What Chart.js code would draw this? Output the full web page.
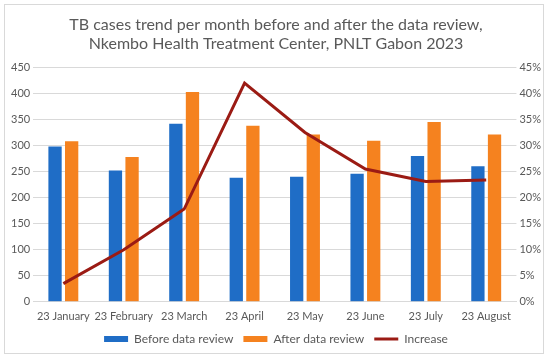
<!DOCTYPE html>
<html>
<head>
<meta charset="utf-8">
<script src="https://cdn.jsdelivr.net/npm/chart.js@4"></script>
<style>
    html, body { margin: 0; padding: 0; background: #fff; }
    #frame { position: absolute; left: 4px; top: 4px; width: 540px; height: 350px; border: 1px solid #d9d9d9; box-sizing: border-box; }
    #wrap { position: absolute; left: 4px; top: 4px; width: 540px; height: 351px; }
</style>
</head>
<body>
<div id="frame"></div>
<div id="wrap"><canvas id="chart"></canvas></div>
<script>
const months = ['23 January', '23 February', '23 March', '23 April', '23 May', '23 June', '23 July', '23 August'];
const beforeReview = [298, 252, 342, 238, 240, 246, 280, 260];
const afterReview = [308, 278, 403, 338, 321, 309, 345, 321];
const increasePct = [3.5, 10, 17.8, 42, 32.5, 25.5, 23.1, 23.4];

const grey = '#595959';
Chart.defaults.font.family = 'Lato, "Noto Sans", sans-serif';

new Chart(document.getElementById('chart'), {
    type: 'bar',
    data: {
        labels: months,
        datasets: [
            {
                label: 'Before data review',
                data: beforeReview,
                backgroundColor: '#1f6dc6',
                pointStyle: 'rect',
                yAxisID: 'y',
                order: 2,
                categoryPercentage: 0.55,
                barPercentage: 0.8
            },
            {
                label: 'After data review',
                data: afterReview,
                backgroundColor: '#f5821f',
                pointStyle: 'rect',
                yAxisID: 'y',
                order: 2,
                categoryPercentage: 0.55,
                barPercentage: 0.8
            },
            {
                type: 'line',
                label: 'Increase',
                data: increasePct,
                borderColor: '#9b1b14',
                backgroundColor: '#9b1b14',
                borderWidth: 3,
                pointRadius: 0,
                pointStyle: 'line',
                tension: 0,
                yAxisID: 'y1',
                order: 1
            }
        ]
    },
    options: {
        responsive: true,
        maintainAspectRatio: false,
        animation: false,
        layout: { padding: { left: 4, right: 0, top: 9, bottom: 0 } },
        plugins: {
            title: {
                display: true,
                text: ['TB cases trend per month before and after the data review,', 'Nkembo Health Treatment Center, PNLT Gabon 2023'],
                color: grey,
                font: { size: 16, weight: 'normal' },
                padding: { top: 2, bottom: 14 }
            },
            legend: {
                position: 'bottom',
                labels: {
                    color: grey,
                    font: { size: 12 },
                    usePointStyle: true,
                    pointStyleWidth: 24,
                    boxHeight: 6,
                    padding: 10,
                    sort: (a, b) => a.datasetIndex - b.datasetIndex
                }
            },
            tooltip: { enabled: false }
        },
        scales: {
            x: {
                grid: { display: false, drawTicks: true },
                border: { color: '#d9d9d9' },
                ticks: { color: grey, font: { size: 11 }, maxRotation: 0, autoSkip: false, padding: 0 }
            },
            y: {
                position: 'left',
                min: 0,
                max: 450,
                ticks: { stepSize: 50, color: grey, font: { size: 11 } },
                grid: { color: '#d9d9d9', drawTicks: false },
                border: { display: false }
            },
            y1: {
                position: 'right',
                min: 0,
                max: 45,
                ticks: { stepSize: 5, color: grey, font: { size: 11 }, callback: v => v + '%' },
                grid: { display: false, drawTicks: false },
                border: { display: false }
            }
        }
    }
});
</script>
</body>
</html>
